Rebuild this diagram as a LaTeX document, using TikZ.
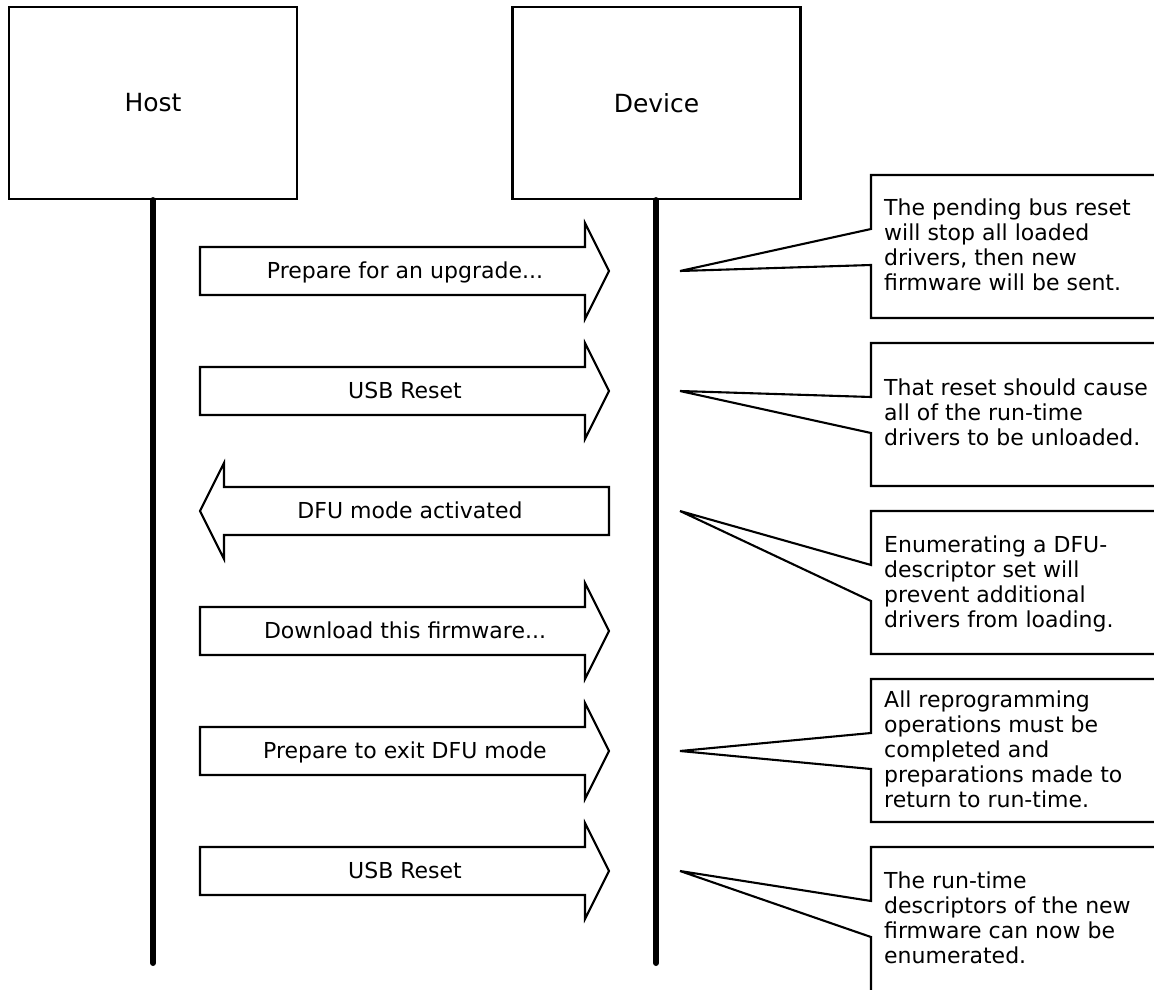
\documentclass[tikz,border=0pt]{standalone}
\usepackage{fontspec}
\setmainfont{DejaVu Sans}
\newcommand\msgright[3]{%
  \draw[msg] (200,#2-24) -- (585,#2-24) -- (585,#2-48) -- (609,#2) -- (585,#2+48) -- (585,#2+24) -- (200,#2+24) -- cycle;
  \node[msglabel] (#1) at (405,#2+7) {#3};}
\newcommand\callout[4]{%
  \coordinate (#1tip) at (680,#3);
  \draw[note] (1175,#2) -- (871,#2) -- (871,#2+54) -- (#1tip) -- (871,#2+90) -- (871,#2+#4) -- (1175,#2+#4);}
\newcommand\notelines[1]{\vtop{\baselineskip=25pt\lineskiplimit=-10pt #1}}
\begin{document}
\begin{tikzpicture}[x=1pt,y=-1pt,
  box/.style={draw,line width=2.2pt,inner sep=0,minimum width=288pt,minimum height=192pt,font=\fontsize{25}{30}\selectfont},
  life/.style={line width=6pt,line cap=round},
  msg/.style={draw,line width=2.1pt,fill=white},
  note/.style={draw,line width=2.1pt},
  msglabel/.style={font=\fontsize{22}{25}\selectfont,anchor=base,inner sep=0},
  notetext/.style={font=\fontsize{22}{25}\selectfont,anchor=base west,inner sep=0}]
\useasboundingbox (0,0) rectangle (1154,990);
\clip (0,0) rectangle (1154,990);
\fill[white] (0,0) rectangle (1154,990);

\node[box] (host) at (153,103) {Host};
\node[box] (device) at (656.5,103) {Device};
\coordinate (hostend) at (153,963);
\coordinate (deviceend) at (656,963);
\draw[life] (host.south) -- (hostend);
\draw[life] (device.south -| deviceend) -- (deviceend);

\msgright{m1}{271}{Prepare for an upgrade...}
\msgright{m2}{391}{USB Reset}
\draw[msg] (609,487) -- (224,487) -- (224,463) -- (200,511) -- (224,559) -- (224,535) -- (609,535) -- cycle;
\node[msglabel] (m3) at (410,518) {DFU mode activated};
\msgright{m4}{631}{Download this firmware...}
\msgright{m5}{751}{Prepare to exit DFU mode}
\msgright{m6}{871}{USB Reset}

\callout{c1}{175}{271}{143}
\callout{c2}{343}{391}{143}
\callout{c3}{511}{511}{143}
\callout{c4}{679}{751}{143}
\callout{c5}{847}{871}{150}

\node[notetext] (n1) at (884,215) {\notelines{\hbox{The pending bus reset}\hbox{will stop all loaded}\hbox{drivers, then new}\hbox{firmware will be sent.}}};
\node[notetext] (n2) at (884,395) {\notelines{\hbox{That reset should cause}\hbox{all of the run-time}\hbox{drivers to be unloaded.}}};
\node[notetext] (n3) at (884,552) {\notelines{\hbox{Enumerating a DFU-}\hbox{descriptor set will}\hbox{prevent additional}\hbox{drivers from loading.}}};
\node[notetext] (n4) at (884,707) {\notelines{\hbox{All reprogramming}\hbox{operations must be}\hbox{completed and}\hbox{preparations made to}\hbox{return to run-time.}}};
\node[notetext] (n5) at (884,888) {\notelines{\hbox{The run-time}\hbox{descriptors of the new}\hbox{firmware can now be}\hbox{enumerated.}}};
\end{tikzpicture}
\end{document}
